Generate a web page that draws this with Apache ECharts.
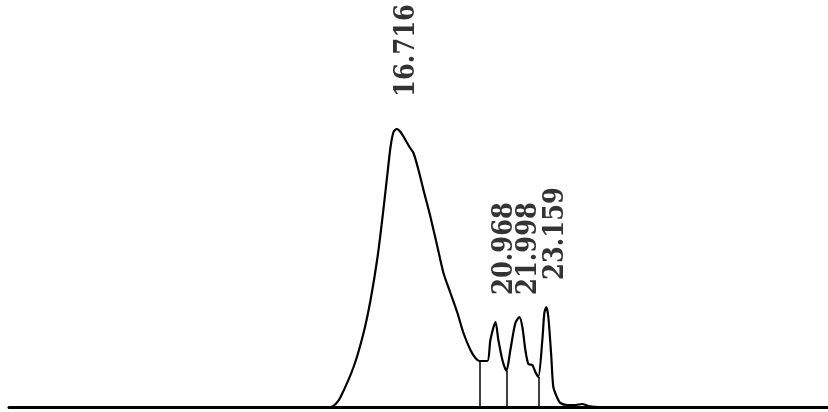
<!DOCTYPE html>
<html>
<head>
<meta charset="utf-8">
<script src="https://cdn.jsdelivr.net/npm/echarts@6/dist/echarts.min.js"></script>
<style>html,body{margin:0;padding:0;background:#fff}#c{width:828px;height:412px}</style>
</head>
<body>
<div id="c"></div>
<script>
// Retention time (min) and detector signal (arbitrary units)
const times = [0, 13.5, 13.862, 14.08, 14.292, 14.852, 15.282, 15.583, 15.885, 16.100, 16.315, 16.444, 16.573, 16.716, 16.875, 17.090, 17.262, 17.434, 17.650, 17.865, 18.166, 18.467, 18.726, 19.027, 19.328, 19.587, 19.888, 20.103, 20.276, 20.620, 20.749, 20.968, 21.093, 21.266, 21.438, 21.610, 21.825, 21.998, 22.127, 22.256, 22.385, 22.557, 22.686, 22.815, 22.988, 23.074, 23.159, 23.246, 23.375, 23.461, 23.633, 23.762, 24.064, 24.408, 24.710, 24.968, 25.484, 35.3];
const signal = [0, 0, 0, 3, 10, 40, 74, 107, 150, 190, 234, 260, 275, 278, 275, 267, 260, 254, 237, 217, 190, 160, 134, 114, 94, 74, 57, 49, 46, 46, 67, 85, 67, 47, 36, 57, 84, 90, 80, 57, 43, 42, 35, 30, 67, 94, 100, 90, 50, 20, 9, 4, 2, 2, 3, 1, 0, 0];
// Labelled peaks
const peakTimes = [16.716, 20.968, 21.998, 23.159];
const peakHeights = [278, 85, 90, 100];
const peakLabelGap = [32, 27, 22, 27];
// Integration drop lines
const dropTimes = [20.276, 21.438, 22.815];
const dropHeights = [46, 36, 30];

const chart = echarts.init(document.getElementById('c'));
chart.setOption({
  animation: false,
  grid: { left: 9, right: 0, top: 0, bottom: 5 },
  xAxis: { type: 'value', min: 0, max: 35.3, show: true,
    axisLine: { show: true, onZero: false, lineStyle: { color: '#000', width: 3 } },
    axisTick: { show: false }, axisLabel: { show: false }, splitLine: { show: false } },
  yAxis: { type: 'value', min: 0, max: 407, show: false },
  series: [
    {
      type: 'line',
      data: times.map((t, i) => [t, signal[i]]),
      showSymbol: false,
      smooth: 0.25,
      lineStyle: { color: '#000', width: 2.2 },
      markLine: {
        symbol: 'none', silent: true,
        label: { show: false },
        lineStyle: { color: '#000', width: 1.5, type: 'solid' },
        data: dropTimes.map((t, i) => [{ coord: [t, 0] }, { coord: [t, dropHeights[i]] }])
      }
    },
    {
      type: 'scatter',
      symbolSize: 0,
      data: peakTimes.map((t, i) => ({
        value: [t, peakHeights[i]],
        label: { distance: peakLabelGap[i] }
      })),
      label: {
        show: true,
        position: 'top',
        rotate: 90,
        align: 'left',
        verticalAlign: 'middle',
        offset: [0, 10],
        formatter: p => p.value[0].toFixed(3),
        fontFamily: '"DejaVu Serif Condensed", "Liberation Serif", serif',
        fontWeight: 'bold',
        fontSize: 27,
        color: '#000'
      }
    }
  ]
});
</script>
</body>
</html>
